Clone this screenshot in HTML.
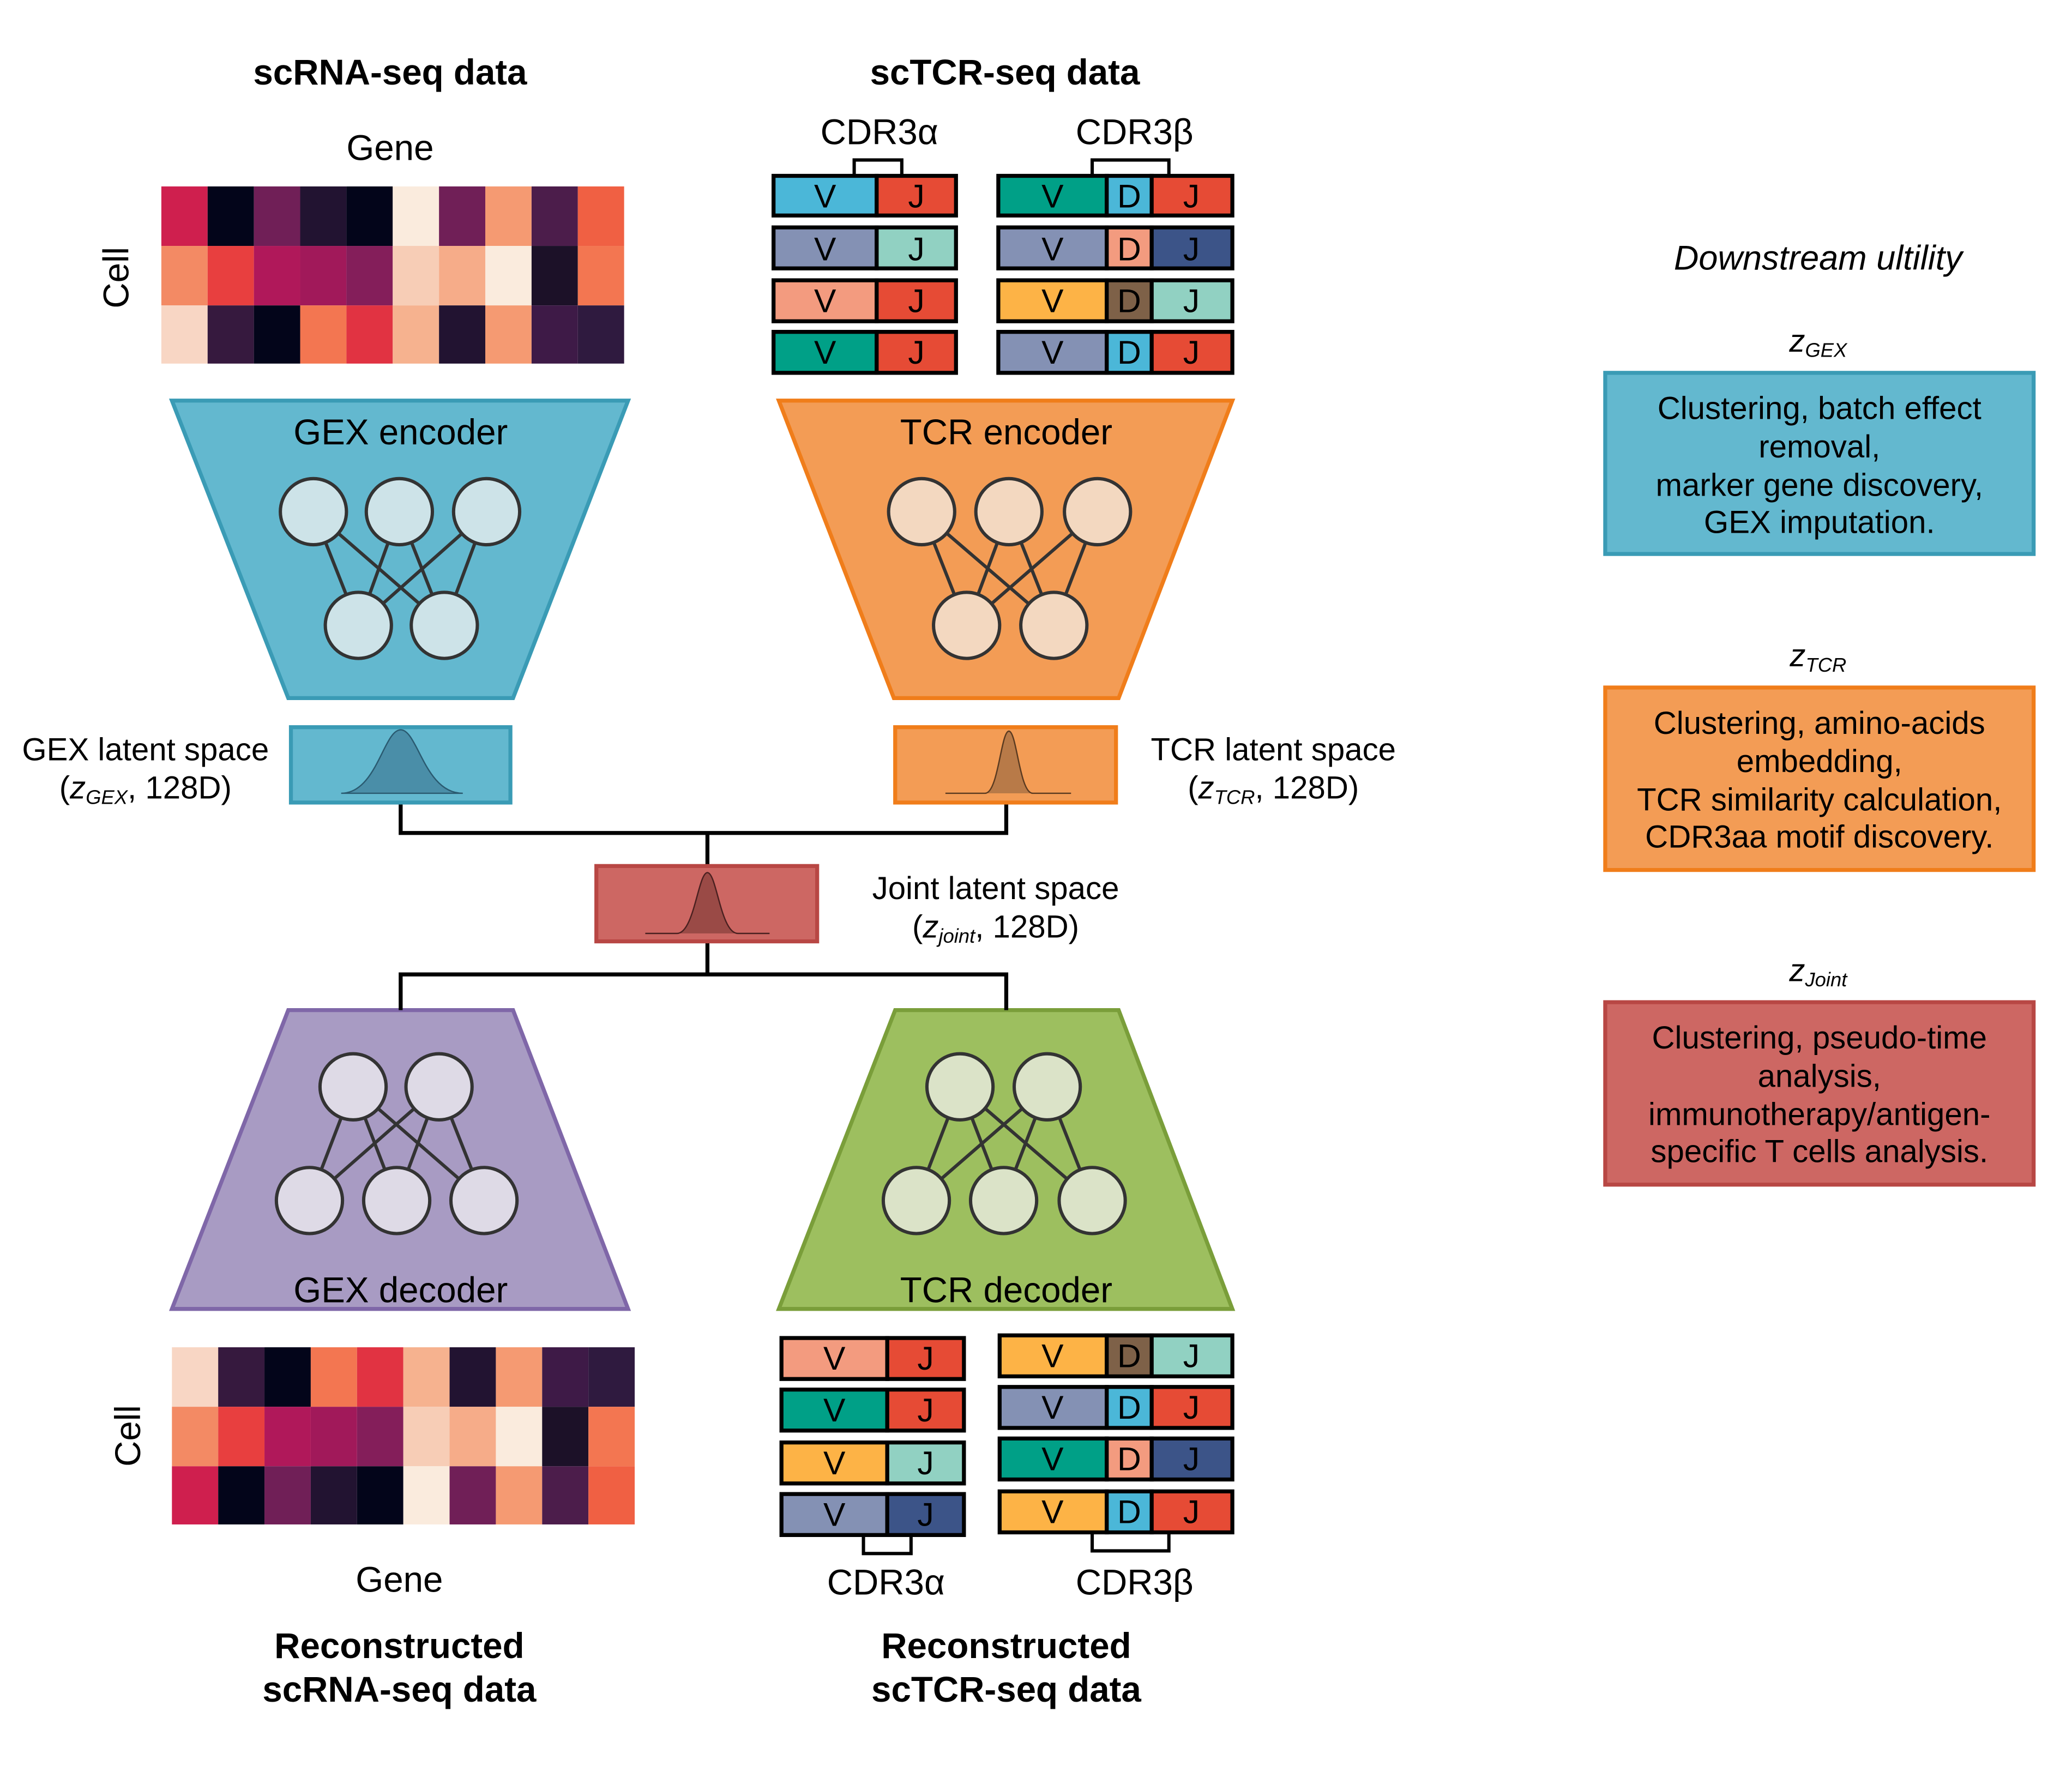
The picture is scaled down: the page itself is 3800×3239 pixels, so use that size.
<!DOCTYPE html>
<html><head><meta charset="utf-8"><style>html,body{margin:0;padding:0;background:#fff}svg{display:block}text{font-family:"Liberation Sans",sans-serif;fill:#000}</style></head><body>
<svg width="3800" height="3239" viewBox="0 0 1567 1335.7" xmlns="http://www.w3.org/2000/svg">
<rect width="1570" height="1340" fill="#fff"/>
<g font-size="27" text-anchor="middle">
<text x="295" y="64" font-weight="bold">scRNA-seq data</text>
<text x="760" y="64" font-weight="bold">scTCR-seq data</text>
<text x="295" y="121">Gene</text>
<text transform="translate(97,210) rotate(-90)">Cell</text>
<text x="302" y="1204">Gene</text>
<text transform="translate(106,1086) rotate(-90)">Cell</text>
<text x="302" y="1254" font-weight="bold">Reconstructed</text>
<text x="302" y="1287" font-weight="bold">scRNA-seq data</text>
<text x="761" y="1254" font-weight="bold">Reconstructed</text>
<text x="761" y="1287" font-weight="bold">scTCR-seq data</text>
<text x="665" y="109">CDR3α</text>
<text x="858" y="109">CDR3β</text>
<text x="670" y="1206">CDR3α</text>
<text x="858" y="1206">CDR3β</text>
</g>
<g>
<rect x="122" y="141" width="35" height="45" fill="#cf1f4e"/><rect x="157" y="141" width="35" height="45" fill="#03051a"/><rect x="192" y="141" width="35" height="45" fill="#701f57"/><rect x="227" y="141" width="35" height="45" fill="#221331"/><rect x="262" y="141" width="35" height="45" fill="#03051a"/><rect x="297" y="141" width="35" height="45" fill="#faebdd"/><rect x="332" y="141" width="35" height="45" fill="#701f57"/><rect x="367" y="141" width="35" height="45" fill="#f59a72"/><rect x="402" y="141" width="35" height="45" fill="#4c1d4b"/><rect x="437" y="141" width="35" height="45" fill="#f06043"/>
<rect x="122" y="186" width="35" height="45" fill="#f38a64"/><rect x="157" y="186" width="35" height="45" fill="#e83f3f"/><rect x="192" y="186" width="35" height="45" fill="#b0185a"/><rect x="227" y="186" width="35" height="45" fill="#a1195a"/><rect x="262" y="186" width="35" height="45" fill="#841e5a"/><rect x="297" y="186" width="35" height="45" fill="#f7cdb6"/><rect x="332" y="186" width="35" height="45" fill="#f6ac89"/><rect x="367" y="186" width="35" height="45" fill="#faebdd"/><rect x="402" y="186" width="35" height="45" fill="#1c1128"/><rect x="437" y="186" width="35" height="45" fill="#f37651"/>
<rect x="122" y="231" width="35" height="44" fill="#f8d6c4"/><rect x="157" y="231" width="35" height="44" fill="#36193e"/><rect x="192" y="231" width="35" height="44" fill="#03051a"/><rect x="227" y="231" width="35" height="44" fill="#f37651"/><rect x="262" y="231" width="35" height="44" fill="#e13342"/><rect x="297" y="231" width="35" height="44" fill="#f6b28f"/><rect x="332" y="231" width="35" height="44" fill="#221331"/><rect x="367" y="231" width="35" height="44" fill="#f59a72"/><rect x="402" y="231" width="35" height="44" fill="#3e1a47"/><rect x="437" y="231" width="35" height="44" fill="#2f1a3f"/>
</g>
<g transform="translate(8,878)">
<rect x="122" y="141" width="35" height="45" fill="#f8d6c4"/><rect x="157" y="141" width="35" height="45" fill="#36193e"/><rect x="192" y="141" width="35" height="45" fill="#03051a"/><rect x="227" y="141" width="35" height="45" fill="#f37651"/><rect x="262" y="141" width="35" height="45" fill="#e13342"/><rect x="297" y="141" width="35" height="45" fill="#f6b28f"/><rect x="332" y="141" width="35" height="45" fill="#221331"/><rect x="367" y="141" width="35" height="45" fill="#f59a72"/><rect x="402" y="141" width="35" height="45" fill="#3e1a47"/><rect x="437" y="141" width="35" height="45" fill="#2f1a3f"/>
<rect x="122" y="186" width="35" height="45" fill="#f38a64"/><rect x="157" y="186" width="35" height="45" fill="#e83f3f"/><rect x="192" y="186" width="35" height="45" fill="#b0185a"/><rect x="227" y="186" width="35" height="45" fill="#a1195a"/><rect x="262" y="186" width="35" height="45" fill="#841e5a"/><rect x="297" y="186" width="35" height="45" fill="#f7cdb6"/><rect x="332" y="186" width="35" height="45" fill="#f6ac89"/><rect x="367" y="186" width="35" height="45" fill="#faebdd"/><rect x="402" y="186" width="35" height="45" fill="#1c1128"/><rect x="437" y="186" width="35" height="45" fill="#f37651"/>
<rect x="122" y="231" width="35" height="44" fill="#cf1f4e"/><rect x="157" y="231" width="35" height="44" fill="#03051a"/><rect x="192" y="231" width="35" height="44" fill="#701f57"/><rect x="227" y="231" width="35" height="44" fill="#221331"/><rect x="262" y="231" width="35" height="44" fill="#03051a"/><rect x="297" y="231" width="35" height="44" fill="#faebdd"/><rect x="332" y="231" width="35" height="44" fill="#701f57"/><rect x="367" y="231" width="35" height="44" fill="#f59a72"/><rect x="402" y="231" width="35" height="44" fill="#4c1d4b"/><rect x="437" y="231" width="35" height="44" fill="#f06043"/>
</g>
<g stroke="#000" stroke-width="3" font-size="25" text-anchor="middle">
<rect x="585" y="133" width="78" height="30" fill="#4bb7d8"/><rect x="663" y="133" width="60" height="30" fill="#e64b35"/>
<rect x="585" y="172" width="78" height="31" fill="#8491b4"/><rect x="663" y="172" width="60" height="31" fill="#91d1c2"/>
<rect x="585" y="212" width="78" height="31" fill="#f39b7f"/><rect x="663" y="212" width="60" height="31" fill="#e64b35"/>
<rect x="585" y="251" width="78" height="31" fill="#00a087"/><rect x="663" y="251" width="60" height="31" fill="#e64b35"/>
<rect x="755" y="133" width="82" height="30" fill="#00a087"/><rect x="837" y="133" width="34" height="30" fill="#4bb7d8"/><rect x="871" y="133" width="61" height="30" fill="#e64b35"/>
<rect x="755" y="172" width="82" height="31" fill="#8491b4"/><rect x="837" y="172" width="34" height="31" fill="#f39b7f"/><rect x="871" y="172" width="61" height="31" fill="#3c5488"/>
<rect x="755" y="212" width="82" height="31" fill="#fdb346"/><rect x="837" y="212" width="34" height="31" fill="#7e6148"/><rect x="871" y="212" width="61" height="31" fill="#91d1c2"/>
<rect x="755" y="251" width="82" height="31" fill="#8491b4"/><rect x="837" y="251" width="34" height="31" fill="#4bb7d8"/><rect x="871" y="251" width="61" height="31" fill="#e64b35"/>
<rect x="591" y="1012" width="80" height="31" fill="#f39b7f"/><rect x="671" y="1012" width="58" height="31" fill="#e64b35"/>
<rect x="591" y="1051" width="80" height="31" fill="#00a087"/><rect x="671" y="1051" width="58" height="31" fill="#e64b35"/>
<rect x="591" y="1091" width="80" height="31" fill="#fdb346"/><rect x="671" y="1091" width="58" height="31" fill="#91d1c2"/>
<rect x="591" y="1130" width="80" height="31" fill="#8491b4"/><rect x="671" y="1130" width="58" height="31" fill="#3c5488"/>
<rect x="756" y="1010" width="81" height="31" fill="#fdb346"/><rect x="837" y="1010" width="34" height="31" fill="#7e6148"/><rect x="871" y="1010" width="61" height="31" fill="#91d1c2"/>
<rect x="756" y="1049" width="81" height="31" fill="#8491b4"/><rect x="837" y="1049" width="34" height="31" fill="#4bb7d8"/><rect x="871" y="1049" width="61" height="31" fill="#e64b35"/>
<rect x="756" y="1088" width="81" height="31" fill="#00a087"/><rect x="837" y="1088" width="34" height="31" fill="#f39b7f"/><rect x="871" y="1088" width="61" height="31" fill="#3c5488"/>
<rect x="756" y="1128" width="81" height="31" fill="#fdb346"/><rect x="837" y="1128" width="34" height="31" fill="#4bb7d8"/><rect x="871" y="1128" width="61" height="31" fill="#e64b35"/>
<path d="M646 133V121H682V133M826 133V121H884V133M653 1161V1175H689V1161M826 1159V1173H884V1159" fill="none" stroke-width="2.5"/>
<g stroke="none">
<text x="624" y="157">V</text><text x="693" y="157">J</text><text x="624" y="197">V</text><text x="693" y="197">J</text><text x="624" y="236">V</text><text x="693" y="236">J</text><text x="624" y="275">V</text><text x="693" y="275">J</text>
<text x="796" y="157">V</text><text x="854" y="157">D</text><text x="901" y="157">J</text>
<text x="796" y="197">V</text><text x="854" y="197">D</text><text x="901" y="197">J</text>
<text x="796" y="236">V</text><text x="854" y="236">D</text><text x="901" y="236">J</text>
<text x="796" y="275">V</text><text x="854" y="275">D</text><text x="901" y="275">J</text>
<text x="631" y="1036">V</text><text x="700" y="1036">J</text><text x="631" y="1075">V</text><text x="700" y="1075">J</text><text x="631" y="1115">V</text><text x="700" y="1115">J</text><text x="631" y="1154">V</text><text x="700" y="1154">J</text>
<text x="796" y="1034">V</text><text x="854" y="1034">D</text><text x="901" y="1034">J</text>
<text x="796" y="1073">V</text><text x="854" y="1073">D</text><text x="901" y="1073">J</text>
<text x="796" y="1112">V</text><text x="854" y="1112">D</text><text x="901" y="1112">J</text>
<text x="796" y="1152">V</text><text x="854" y="1152">D</text><text x="901" y="1152">J</text>
</g>
</g>
<polygon points="130,303 475,303 388,528 218,528" fill="#63b8cf" stroke="#3a9bb5" stroke-width="3"/>
<polygon points="589,303 932,303 846,528 676,528" fill="#f39c55" stroke="#f07d1a" stroke-width="3"/>
<polygon points="218,764 388,764 475,990 130,990" fill="#a89bc3" stroke="#7f67a8" stroke-width="3"/>
<polygon points="677,764 846,764 932,990 589,990" fill="#9dbf5f" stroke="#7a9e3a" stroke-width="3"/>
<g font-size="27" text-anchor="middle">
<text x="303" y="336">GEX encoder</text><text x="761" y="336">TCR encoder</text>
<text x="303" y="985">GEX decoder</text><text x="761" y="985">TCR decoder</text>
</g>
<g stroke="#333" stroke-width="2.5">
<path d="M237 387L271 473M237 387L336 473M302 387L271 473M302 387L336 473M368 387L271 473M368 387L336 473"/>
<g fill="#cde3e8"><circle cx="237" cy="387" r="25"/><circle cx="302" cy="387" r="25"/><circle cx="368" cy="387" r="25"/><circle cx="271" cy="473" r="25"/><circle cx="336" cy="473" r="25"/></g>
<path d="M697 387L731 473M697 387L797 473M763 387L731 473M763 387L797 473M830 387L731 473M830 387L797 473"/>
<g fill="#f3d8c0"><circle cx="697" cy="387" r="25"/><circle cx="763" cy="387" r="25"/><circle cx="830" cy="387" r="25"/><circle cx="731" cy="473" r="25"/><circle cx="797" cy="473" r="25"/></g>
<path d="M267 822L234 908M267 822L300 908M267 822L366 908M332 822L234 908M332 822L300 908M332 822L366 908"/>
<g fill="#dedae6"><circle cx="267" cy="822" r="25"/><circle cx="332" cy="822" r="25"/><circle cx="234" cy="908" r="25"/><circle cx="300" cy="908" r="25"/><circle cx="366" cy="908" r="25"/></g>
<path d="M726 822L693 908M726 822L759 908M726 822L826 908M792 822L693 908M792 822L759 908M792 822L826 908"/>
<g fill="#dbe3c8"><circle cx="726" cy="822" r="25"/><circle cx="792" cy="822" r="25"/><circle cx="693" cy="908" r="25"/><circle cx="759" cy="908" r="25"/><circle cx="826" cy="908" r="25"/></g>
</g>
<path d="M303 607V630H761V607M535 630V655M535 712V737H303V764M535 737H761V764" fill="none" stroke="#000" stroke-width="3"/>
<rect x="220" y="550" width="166" height="57" fill="#63b8cf" stroke="#3a9bb5" stroke-width="3"/>
<path d="M258 600C285 600 290 552 303 552C316 552 321 600 350 600Z" fill="#4a8ea8" stroke="#2a5a70" stroke-width="1"/>
<rect x="677" y="550" width="167" height="57" fill="#f39c55" stroke="#f07d1a" stroke-width="3"/>
<path d="M715 600H745C755 600 757 553 763 553C769 553 771 600 781 600H810" fill="#b87a48" stroke="#5a3a20" stroke-width="1"/>
<rect x="451" y="655" width="167" height="57" fill="#cd6763" stroke="#b84744" stroke-width="3"/>
<path d="M488 706H512C525 706 528 660 535 660C542 660 545 706 558 706H582" fill="#9a4a46" stroke="#4a2020" stroke-width="1"/>
<g font-size="24" text-anchor="middle">
<text x="110" y="575">GEX latent space</text>
<text x="110" y="604">(<tspan font-style="italic">z</tspan><tspan font-style="italic" font-size="15" dy="4">GEX</tspan><tspan dy="-4">, 128D)</tspan></text>
<text x="963" y="575">TCR latent space</text>
<text x="963" y="604">(<tspan font-style="italic">z</tspan><tspan font-style="italic" font-size="15" dy="4">TCR</tspan><tspan dy="-4">, 128D)</tspan></text>
<text x="753" y="680">Joint latent space</text>
<text x="753" y="709">(<tspan font-style="italic">z</tspan><tspan font-style="italic" font-size="15" dy="4">joint</tspan><tspan dy="-4">, 128D)</tspan></text>
</g>
<g font-size="24" text-anchor="middle">
<text x="1375" y="204" font-style="italic" font-size="26">Downstream ultility</text>
<text x="1375" y="266" font-style="italic">z<tspan font-size="15" dy="4">GEX</tspan></text>
<text x="1375" y="504" font-style="italic">z<tspan font-size="15" dy="4">TCR</tspan></text>
<text x="1375" y="742" font-style="italic">z<tspan font-size="15" dy="4">Joint</tspan></text>
<rect x="1214" y="282" width="324" height="137" fill="#63b8cf" stroke="#3a9bb5" stroke-width="3"/>
<rect x="1214" y="520" width="324" height="138" fill="#f39c55" stroke="#f07d1a" stroke-width="3"/>
<rect x="1214" y="758" width="324" height="138" fill="#cd6763" stroke="#b84744" stroke-width="3"/>
<text x="1376" y="317">Clustering, batch effect</text><text x="1376" y="346">removal,</text><text x="1376" y="375">marker gene discovery,</text><text x="1376" y="403">GEX imputation.</text>
<text x="1376" y="555">Clustering, amino-acids</text><text x="1376" y="584">embedding,</text><text x="1376" y="613">TCR similarity calculation,</text><text x="1376" y="641">CDR3aa motif discovery.</text>
<text x="1376" y="793">Clustering, pseudo-time</text><text x="1376" y="822">analysis,</text><text x="1376" y="851">immunotherapy/antigen-</text><text x="1376" y="879">specific T cells analysis.</text>
</g>
</svg>
</body></html>
